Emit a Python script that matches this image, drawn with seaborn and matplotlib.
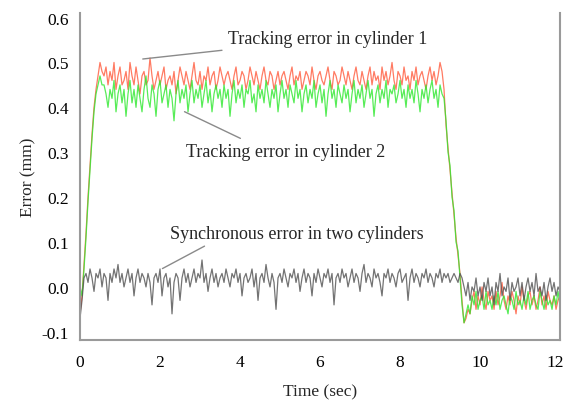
import numpy as np
import pandas as pd
import matplotlib
matplotlib.use("Agg")
import matplotlib.pyplot as plt
import matplotlib.transforms as mtransforms
import seaborn as sns

DT = 0.05  # sample interval (sec)

# Tracking error in cylinder 1 (mm)
err1_rise = [-0.06, -0.02, 0.05, 0.12, 0.20, 0.27, 0.34, 0.40, 0.44, 0.47, 0.50, 0.48]
err1_plateau = [
    0.47, 0.49, 0.45, 0.48, 0.46, 0.50, 0.44, 0.47, 0.49, 0.45,
    0.46, 0.48, 0.44, 0.50, 0.47, 0.45, 0.49, 0.46, 0.43, 0.47,
    0.48, 0.45, 0.46, 0.51, 0.47, 0.44, 0.46, 0.48, 0.45, 0.47,
    0.49, 0.44, 0.46, 0.47, 0.45, 0.48, 0.43, 0.46, 0.49, 0.47,
    0.45, 0.48, 0.46, 0.44, 0.47, 0.50, 0.46, 0.45, 0.48, 0.44,
    0.47, 0.46, 0.49, 0.45, 0.47, 0.48, 0.44, 0.46, 0.49, 0.47,
    0.45, 0.47, 0.48, 0.46, 0.44, 0.47, 0.49, 0.45, 0.46, 0.48,
    0.47, 0.44, 0.46, 0.49, 0.47, 0.45, 0.48, 0.46, 0.44, 0.47,
    0.49, 0.46, 0.45, 0.48, 0.47, 0.44, 0.46, 0.48, 0.45, 0.47,
    0.48, 0.46, 0.44, 0.47, 0.49, 0.45, 0.47, 0.46, 0.48, 0.44,
    0.46, 0.48, 0.47, 0.45, 0.49, 0.46, 0.44, 0.47, 0.48, 0.46,
    0.45, 0.47, 0.49, 0.46, 0.44, 0.48, 0.47, 0.45, 0.46, 0.49,
    0.47, 0.45, 0.48, 0.46, 0.44, 0.47, 0.49, 0.46, 0.45, 0.48,
    0.46, 0.44, 0.47, 0.49, 0.45, 0.48, 0.46, 0.47, 0.44, 0.49,
    0.46, 0.48, 0.45, 0.47, 0.50, 0.46, 0.44, 0.48, 0.47, 0.45,
    0.49, 0.46, 0.47, 0.44, 0.48, 0.46, 0.49, 0.45, 0.47, 0.48,
    0.46, 0.44, 0.47, 0.49, 0.46, 0.48, 0.45, 0.47, 0.50, 0.48,
]
err1_drop = [0.44, 0.36, 0.31, 0.26, 0.21, 0.16, 0.11, 0.07, 0.03, -0.03, -0.08, -0.07, -0.05, -0.06]
err1_tail = [
    -0.03, -0.01, -0.05, -0.02, -0.04, 0.00, -0.03, -0.05, -0.01, -0.03,
    -0.02, -0.05, -0.01, -0.04, -0.02, 0.01, -0.03, -0.05, -0.02, -0.04,
    -0.01, -0.03, -0.06, -0.02, -0.04, 0.00, -0.03, -0.05, -0.02, -0.01,
    -0.04, -0.02, -0.05, -0.03, 0.00, -0.04, -0.02, -0.05, -0.01, -0.03,
    -0.04, -0.02, -0.05, -0.03, -0.02,
]

# Tracking error in cylinder 2 (mm)
err2_rise = [0.00, -0.02, 0.04, 0.11, 0.19, 0.26, 0.33, 0.39, 0.43, 0.45, 0.47, 0.45]
err2_plateau = [
    0.45, 0.43, 0.40, 0.44, 0.42, 0.46, 0.39, 0.43, 0.45, 0.41,
    0.44, 0.38, 0.43, 0.46, 0.41, 0.44, 0.40, 0.45, 0.42, 0.39,
    0.44, 0.47, 0.42, 0.40, 0.45, 0.43, 0.38, 0.44, 0.46, 0.41,
    0.43, 0.45, 0.40, 0.44, 0.42, 0.37, 0.43, 0.46, 0.41, 0.44,
    0.42, 0.45, 0.39, 0.43, 0.46, 0.41, 0.44, 0.42, 0.45, 0.40,
    0.43, 0.46, 0.41, 0.44, 0.39, 0.43, 0.45, 0.42, 0.44, 0.40,
    0.45, 0.42, 0.44, 0.38, 0.43, 0.46, 0.41, 0.44, 0.42, 0.45,
    0.40, 0.44, 0.43, 0.46, 0.41, 0.43, 0.39, 0.45, 0.42, 0.44,
    0.41, 0.46, 0.43, 0.40, 0.44, 0.42, 0.45, 0.39, 0.43, 0.46,
    0.42, 0.44, 0.40, 0.45, 0.43, 0.41, 0.46, 0.42, 0.44, 0.39,
    0.43, 0.45, 0.41, 0.44, 0.42, 0.46, 0.40, 0.43, 0.45, 0.41,
    0.44, 0.38, 0.43, 0.46, 0.42, 0.44, 0.40, 0.45, 0.43, 0.41,
    0.45, 0.42, 0.44, 0.39, 0.43, 0.46, 0.41, 0.44, 0.42, 0.45,
    0.40, 0.43, 0.46, 0.42, 0.44, 0.38, 0.43, 0.45, 0.41, 0.44,
    0.42, 0.46, 0.40, 0.44, 0.43, 0.45, 0.41, 0.43, 0.46, 0.42,
    0.44, 0.40, 0.45, 0.42, 0.44, 0.41, 0.46, 0.43, 0.39, 0.44,
    0.42, 0.45, 0.41, 0.44, 0.46, 0.42, 0.44, 0.40, 0.45, 0.43,
]
err2_drop = [0.42, 0.37, 0.30, 0.27, 0.20, 0.17, 0.10, 0.08, 0.02, -0.04, -0.08, -0.06, -0.04, -0.06]
err2_tail = [
    -0.02, -0.04, -0.01, -0.05, -0.03, -0.02, -0.05, -0.01, -0.04, -0.03,
    -0.05, -0.02, -0.04, -0.01, -0.05, -0.03, -0.02, -0.04, -0.06, -0.02,
    -0.03, -0.05, -0.01, -0.04, -0.03, -0.05, -0.02, -0.04, -0.01, -0.05,
    -0.03, -0.02, -0.04, -0.05, -0.01, -0.03, -0.05, -0.02, -0.04, -0.03,
    -0.05, -0.02, -0.04, -0.01, -0.04,
]

# Synchronous error in two cylinders (mm)
sync_start = [-0.07, -0.03, 0.02]
sync_plateau = [
    0.03, 0.01, 0.04, 0.02, -0.01, 0.03, 0.02, 0.04, 0.00, 0.03,
    0.02, -0.03, 0.03, 0.01, 0.04, 0.02, 0.05, 0.01, 0.03, 0.00,
    0.02, 0.04, 0.01, 0.03, -0.02, 0.02, 0.04, 0.01, 0.03, 0.02,
    0.00, 0.03, 0.01, -0.04, 0.02, 0.03, 0.01, 0.04, -0.02, 0.02,
    0.03, 0.00, 0.02, -0.06, 0.01, 0.03, 0.02, -0.03, 0.02, 0.04,
    0.01, 0.03, 0.00, 0.02, 0.04, 0.01, 0.03, 0.02, 0.06, 0.01,
    0.03, -0.01, 0.02, 0.04, 0.01, 0.03, 0.00, 0.02, 0.03, 0.01,
    0.04, 0.02, 0.00, 0.03, 0.02, 0.04, 0.01, 0.03, -0.02, 0.02,
    0.03, 0.01, 0.02, 0.04, 0.00, 0.03, -0.03, 0.02, 0.03, 0.01,
    0.05, 0.02, 0.00, 0.03, 0.01, -0.05, 0.02, 0.03, 0.01, 0.04,
    0.02, 0.00, 0.03, 0.02, 0.04, 0.01, 0.03, -0.01, 0.02, 0.04,
    0.01, 0.03, 0.02, -0.02, 0.03, 0.01, 0.04, 0.02, 0.00, 0.03,
    0.02, 0.04, 0.01, 0.03, -0.04, 0.02, 0.03, 0.01, 0.04, 0.02,
    0.03, 0.00, 0.02, 0.04, 0.01, 0.03, 0.02, -0.01, 0.03, 0.05,
    0.01, 0.03, 0.02, 0.00, 0.04, 0.02, 0.03, 0.01, -0.02, 0.03,
    0.02, 0.04, 0.01, 0.03, 0.02, 0.00, 0.03, 0.04, 0.01, 0.02,
    0.03, -0.03, 0.02, 0.04, 0.01, 0.03, 0.02, 0.00, 0.03, 0.02,
    0.04, 0.01, 0.03, 0.02, 0.00, 0.03, 0.02, 0.04, 0.01, 0.03,
    0.02, 0.03, 0.01, 0.02, 0.03, 0.02, 0.01, 0.03, 0.02,
]
sync_tail = [
    0.00, -0.02, 0.01, -0.03, 0.00, -0.01, 0.02, -0.02, 0.00, -0.03,
    0.01, -0.01, 0.02, -0.02, 0.00, -0.04, 0.01, -0.01, 0.03, -0.02,
    0.00, -0.01, 0.02, -0.03, 0.01, -0.01, 0.00, 0.02, -0.02, 0.01,
    -0.03, 0.00, 0.02, -0.01, 0.01, -0.02, 0.03, -0.01, 0.00, -0.02,
    0.01, -0.03, 0.00, 0.02, -0.01, 0.01, -0.02, 0.00, -0.01,
]

err1 = err1_rise + err1_plateau + err1_drop + err1_tail
err2 = err2_rise + err2_plateau + err2_drop + err2_tail
sync = sync_start + sync_plateau + sync_tail

x_ticks = [0, 2, 4, 6, 8, 10, 12]
y_ticks = [-0.1, 0.0, 0.1, 0.2, 0.3, 0.4, 0.5, 0.6]
y_ticklabels = ["-0.1", "0.0", "0.1", "0.2", "0.3", "0.4", "0.5", "0.6"]

def frame(values, name):
    return pd.DataFrame({"Time": np.arange(len(values)) * DT, "Error": values, "series": name})

df = pd.concat([frame(err1, "cyl1"), frame(err2, "cyl2"), frame(sync, "sync")], ignore_index=True)

sns.set_theme(style="white")
plt.rcParams["font.family"] = ["Liberation Serif", "DejaVu Serif"]

fig = plt.figure(figsize=(5.65, 4.02), dpi=100)
ax = fig.add_axes([0.1416, 0.152, 0.8496, 0.813])

styles = {"cyl1": ("#ff5a3c", 0.8), "cyl2": ("#2ee82e", 0.8), "sync": ("#505050", 0.8)}
for name in ["cyl1", "cyl2", "sync"]:
    color, alpha = styles[name]
    sns.lineplot(data=df[df["series"] == name], x="Time", y="Error", ax=ax,
                 color=color, alpha=alpha, linewidth=0.9, estimator=None, legend=False)

ax.set_xlim(0, 12)
ax.set_ylim(-0.118, 0.61)
ax.set_xticks(x_ticks)
ax.set_xticklabels([str(t) for t in x_ticks])
ax.set_yticks(y_ticks)
ax.set_yticklabels(y_ticklabels)
ax.tick_params(axis="both", direction="in", length=4, width=1.2, color="#9a9a9a",
               labelsize=12.5, labelcolor="black")
ax.tick_params(axis="x", pad=10)
ax.tick_params(axis="y", pad=8)

# nudge the last x tick label inward so it stays on the canvas
last = ax.get_xticklabels()[-1]
last.set_transform(last.get_transform() + mtransforms.ScaledTranslation(-5 / 100, 0, fig.dpi_scale_trans))

for side in ["left", "bottom", "right"]:
    ax.spines[side].set_color("#9a9a9a")
    ax.spines[side].set_linewidth(1.5)
ax.spines["top"].set_visible(False)

ax.set_xlabel("Time (sec)", fontsize=12.5, labelpad=10)
ax.set_ylabel("Error (mm)", fontsize=12.5, labelpad=4)

ax.annotate("Tracking error in cylinder 1", xy=(1.5, 0.507), xytext=(3.7, 0.553),
            fontsize=13, va="center", ha="left",
            arrowprops=dict(arrowstyle="-", color="#8a8a8a", lw=1.0))
ax.annotate("Tracking error in cylinder 2", xy=(2.55, 0.393), xytext=(2.65, 0.302),
            fontsize=13, va="center", ha="left",
            arrowprops=dict(arrowstyle="-", color="#8a8a8a", lw=1.0, relpos=(0.32, 1.0)))
ax.annotate("Synchronous error in two cylinders", xy=(2.0, 0.038), xytext=(2.25, 0.12),
            fontsize=13, va="center", ha="left",
            arrowprops=dict(arrowstyle="-", color="#8a8a8a", lw=1.0, relpos=(0.17, 0.0)))

fig.savefig("out.png", dpi=100)
